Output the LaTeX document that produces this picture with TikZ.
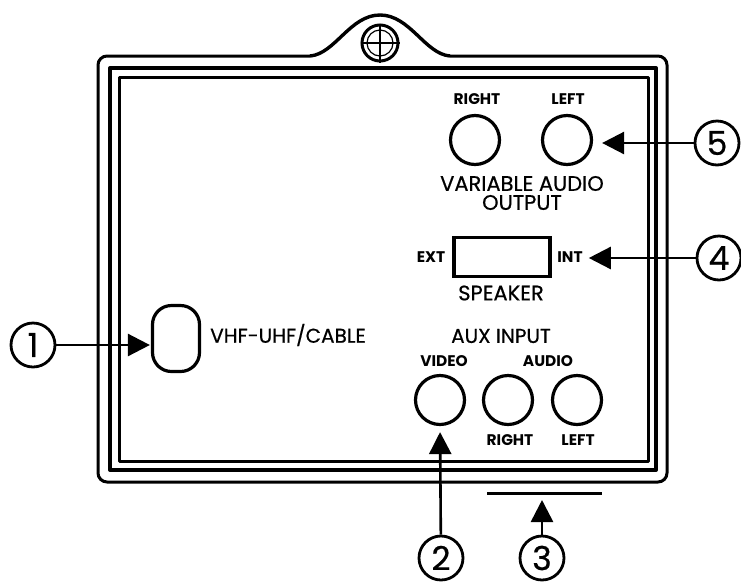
\documentclass[tikz,border=0pt]{standalone}
\usepackage{fontspec}
\setmainfont{Poppins}
\newfontfamily\labelfont[FakeBold=0.6]{Poppins}
\usetikzlibrary{arrows.meta}
\tikzset{
  x=1pt,y=-1pt,
  frameline/.style={draw=black,line width=3pt,line join=round},
  jack/.style={circle,draw=black,line width=3.2pt,minimum size=49pt,inner sep=0pt},
  callout/.style={circle,draw=black,line width=2.8pt,minimum size=44pt,inner sep=0pt,font=\labelfont\fontsize{33}{33}\selectfont},
  lead/.style={draw=black,line width=2.6pt,-{Triangle[length=22pt,width=22pt]}},
  small/.style={font=\fontsize{15.4}{15}\selectfont\bfseries,inner sep=0pt},
  big/.style={font=\labelfont\fontsize{21}{19}\selectfont,inner sep=0pt,align=center},
}
\begin{document}
\begin{tikzpicture}
\useasboundingbox (0,0) rectangle (741,582);
% frame
\draw[frameline,rounded corners=9pt] (310,56) -- (98,56) -- (98,482) -- (667,482) -- (667,56) -- (450,56);
\draw[frameline,line width=3.4pt] (310,56) .. controls (335,54) and (350,15) .. (380,15) .. controls (410,15) and (425,54) .. (450,56);
\draw[frameline,line width=4pt] (110,68) rectangle (656,470);
\draw[frameline] (119,77) rectangle (648,461);
% screw
\node[circle,draw=black,line width=3pt,minimum size=36pt,inner sep=0pt] (screw) at (380,43) {};
\node[circle,draw=black,line width=1.2pt,minimum size=26pt,inner sep=0pt] (screwin) at (380,43) {};
\draw[line width=2.2pt] (screw.north) -- (screw.south);
\draw[line width=2.2pt] (screw.west) -- (screw.east);
% jacks
\node[jack] (outr) at (475,140) {};
\node[jack] (outl) at (567,140) {};
\node[jack] (vid) at (440,400) {};
\node[jack] (audr) at (508,400) {};
\node[jack] (audl) at (577,400) {};
\node[draw=black,line width=3.4pt,minimum width=96pt,minimum height=39pt,inner sep=0pt] (spk) at (502,257) {};
\node[draw=black,line width=3.2pt,rounded corners=19pt,minimum width=47pt,minimum height=66pt,inner sep=0pt] (ant) at (176,338.5) {};
% labels
\node[small] (t1) at (477,99) {RIGHT};
\node[small] (t2) at (568,99) {LEFT};
\node[big] (t3) at (522,193) {VARIABLE AUDIO\\OUTPUT};
\node[small] (t4) at (431,257) {EXT};
\node[small] (t5) at (570,257) {INT};
\node[big] (t6) at (501,293) {SPEAKER};
\node[big,font=\labelfont\fontsize{20}{20}\selectfont] (t7) at (288,335) {VHF-UHF/CABLE};
\node[big,font=\labelfont\fontsize{20}{20}\selectfont] (t8) at (501,336) {AUX INPUT};
\node[small] (t9) at (444,361) {VIDEO};
\node[small] (t10) at (548,361) {AUDIO};
\node[small] (t11) at (510,440) {RIGHT};
\node[small] (t12) at (578,440) {LEFT};
% bar
\coordinate (barl) at (487,493);
\coordinate (barr) at (602,493);
\coordinate (barm) at (542,493);
\draw[line width=3pt] (barl) -- (barr);
% callouts
\node[callout] (c1) at (33,345) {1};
\node[callout] (c2) at (441,558) {2};
\node[callout] (c3) at (542,558) {3};
\node[callout] (c4) at (719,258) {4};
\node[callout] (c5) at (717,143) {5};
\draw[lead,shorten >=1pt] (c1) -- (ant.west |- c1);
\draw[lead,shorten >=6pt] (c2) -- (vid.south);
\draw[lead,shorten >=7pt] (c3) -- (barm);
\draw[lead,shorten >=6pt] (c4) -- (t5.east |- c4);
\draw[lead,shorten >=9pt] (c5) -- (outl.east |- c5);
\end{tikzpicture}
\end{document}
